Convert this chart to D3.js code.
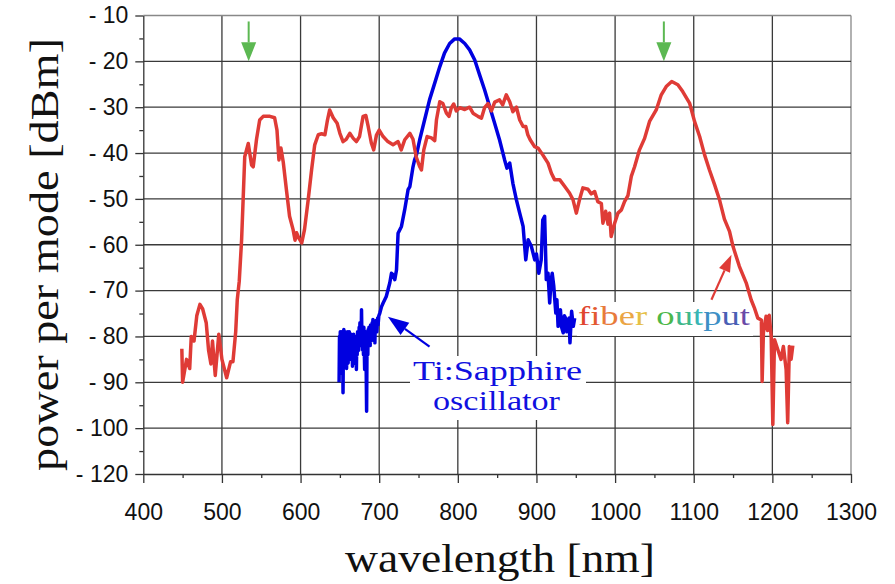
<!DOCTYPE html>
<html>
<head>
<meta charset="utf-8">
<title>power per mode</title>
<script src="https://cdn.jsdelivr.net/npm/d3@7"></script>
<style>
  body { margin: 0; background: #fff; }
  .tick text { font-family: "Liberation Sans", Arial, sans-serif; font-size: 23px; fill: #111; }
  .tick line, .domain { stroke: #333; stroke-width: 1.3px; }
  .title { font-family: "Liberation Serif", "DejaVu Serif", serif; fill: #111; }
</style>
</head>
<body>
<svg id="chart" width="895" height="584"></svg>
<script>
// x-axis ticks (nm) and y-axis ticks (dBm); note the bottom label reads -120
var xTicks = [400, 500, 600, 700, 800, 900, 1000, 1100, 1200, 1300];
var xMinor = [450, 550, 650, 750, 850, 950, 1050, 1150, 1250];
var yTicks = [-10, -20, -30, -40, -50, -60, -70, -80, -90, -100, -110];
var yTickLabels = ["- 10", "- 20", "- 30", "- 40", "- 50", "- 60", "- 70", "- 80", "- 90", "- 100", "- 120"];
var yMinor = [-15, -25, -35, -45, -55, -65, -75, -85, -95, -105];

// fiber output spectrum
var fiberNm = [449, 450, 455, 459, 461, 464.5, 468, 472, 475.5, 480, 483, 486, 488, 491.5, 496, 500, 506, 511, 514, 517.5,
  519.5, 522, 525, 527, 529, 533.5, 537.7, 539.8, 544, 548, 552.5, 561, 567, 570, 572.5, 575, 578, 582, 586, 590.5,
  593, 595, 598, 601.5, 605, 609.7, 614, 618, 622.5, 626.7, 631, 634, 637, 641.5, 646.5, 650, 654, 658, 662.6, 667,
  671, 675, 679.5, 683, 686, 690, 693, 696.5, 700, 705, 711, 717.6, 724, 728, 732.5, 739, 743, 747, 751.6, 753.7,
  756.7, 761, 766.4, 770.6, 772.8, 777, 781, 785.5, 788.8, 791.8, 794.7, 798, 802.4, 808.8, 815, 819.3, 825.6, 830, 834, 838.4,
  842.7, 846.9, 853, 857, 861.6, 866, 870, 874.5, 878.7, 883, 886.4, 889, 892, 897.6, 902, 908, 914.7, 919, 923, 929.5,
  936, 942, 946.5, 950.7, 955, 959, 965.5, 969.7, 974, 978, 982.5, 984.5, 988, 991, 993, 995, 999.4, 1003.6, 1008, 1012,
  1016.3, 1020.6, 1024.8, 1031, 1037.5, 1043.8, 1052.3, 1058.7, 1065, 1072, 1079.8, 1086, 1094.7, 1101, 1107.5, 1113.8, 1120, 1126.5, 1132.8, 1139,
  1145.5, 1150, 1158, 1166.7, 1173, 1177, 1181.5, 1186, 1187, 1188.6, 1192, 1194, 1196, 1198.5, 1200.6, 1202.7, 1207, 1211, 1214, 1217.5,
  1219.5, 1221.6, 1223.8, 1226];
var fiberDbm = [-82.7, -90, -85, -87, -80, -81, -75.5, -73, -74, -77, -83, -86, -81, -88.5, -79.5, -85, -89, -85.5, -85.5, -79,
  -72, -68, -59, -50, -40.8, -37.9, -42.6, -43, -37, -32.8, -32, -32, -32.3, -35, -41.5, -38.9, -42, -48, -53.8, -56.7,
  -59, -57.4, -58.6, -59.6, -56.7, -50.2, -43.7, -38.2, -36, -35.8, -36, -33, -30.6, -32.3, -33.5, -35.7, -37.5, -37, -35.7, -36.8,
  -37.5, -36.4, -32, -31.8, -34.2, -37.8, -39.3, -36.1, -35, -36.4, -37.5, -38.2, -37.5, -39.3, -37.1, -35.7, -37, -40.8, -43, -43.7,
  -39.3, -36.4, -36.7, -37.3, -32.8, -28.8, -29.2, -31.3, -32, -30.1, -29.3, -30.8, -30.1, -30.5, -30, -31.3, -32, -32.4, -30.1, -29.2,
  -30.8, -28.9, -28.4, -29.5, -27.3, -28.8, -31, -30, -32.8, -34.2, -34.2, -36, -37.1, -38.6, -38.9, -40.4, -42.2, -44.4, -45.8, -45.8,
  -47.3, -48.7, -50.2, -53.1, -50, -47.6, -47.9, -48.9, -48.4, -50.6, -51, -55.3, -52.7, -55.5, -53.1, -58.2, -55.3, -53.1, -52.4, -50.6,
  -49.3, -45.1, -43, -39.3, -36.8, -33.1, -30.6, -27.3, -25.5, -24.4, -25.1, -26.6, -29.1, -33.1, -36.4, -40.4, -43.7, -46.9, -50.2, -54.4,
  -57.1, -60.4, -64.7, -68.3, -72, -73.7, -76, -76.4, -89.8, -79.2, -75.6, -78.7, -75.4, -80, -99.2, -80.7, -82.9, -85, -82.2, -87.2,
  -98.8, -82.2, -85, -82];

// Ti:Sapphire oscillator spectrum (noisy floor read point by point)
var oscNm = [649, 649.5, 650, 650.5, 651, 651.5, 652, 652.5, 653, 653.5, 654, 654.5, 655, 655.5, 656, 656.5, 657, 657.5, 658, 658.5,
  659, 659.5, 660, 660.5, 661, 661.5, 662, 662.5, 663, 663.5, 664, 664.5, 665, 665.5, 666, 666.5, 667, 667.5, 668, 668.5,
  669, 669.5, 670, 670.5, 671, 671.5, 672, 672.5, 673, 673.5, 674, 674.5, 675, 675.5, 676, 676.5, 677, 677.5, 678, 678.5,
  679, 679.5, 680, 680.5, 681, 681.5, 682, 682.5, 683, 683.5, 684, 684.5, 685, 685.5, 686, 686.5, 687, 687.5, 688, 688.5,
  689, 689.5, 690, 690.5, 691, 691.5, 692, 692.5, 693, 693.5, 694, 694.5, 695, 695.5, 696, 697, 698, 698.6, 699.5, 700.8,
  703, 705, 709, 713.5, 715.6, 717.5, 719.8, 722, 724, 728.3, 732.5, 736.7, 739, 743,
  745, 747.4, 751.5, 757.7, 764, 770.5, 777, 783, 789.6, 796, 802, 808.8, 815, 821.5, 827.8, 834, 840.5, 846.8, 853, 859.5,
  862.5, 866, 870, 874.5, 878.7, 883, 886.4, 889.4, 893.6, 897.8, 900, 903, 906, 908, 910.4, 912.5, 914.7, 916.8, 918.5, 920,
  922, 924.6, 926, 927.5, 929, 930.5, 932, 934, 935.5, 937, 938.5, 940.5, 941.5, 942.6, 944.7, 946.8, 948.6];
var oscDbm = [-90, -80, -86, -79, -88, -81, -87, -79, -84, -80, -92.3, -81, -78.5, -86, -80, -85, -79, -83, -80, -87,
  -81, -86, -79, -85.8, -80, -84, -79, -82, -84.5, -80, -85, -79.5, -83, -80, -86.5, -80, -84, -79.5, -83, -80,
  -85, -81, -86, -80, -87.2, -81, -84, -79, -82, -79.2, -83, -78, -81, -77, -80, -78, -82, -74.2, -80, -78,
  -83, -79, -84, -78, -83, -87.2, -80, -84, -79, -88, -96.3, -82, -79, -84, -78.5, -82, -78, -81, -79, -82,
  -77.5, -81, -78, -80.5, -77, -80, -76.3, -79, -77, -81, -78, -81.4, -77, -79, -76.5, -79, -76, -77.5, -75.5, -74.9,
  -73.5, -72.7, -71.3, -68.3, -66.2, -66.5, -67.6, -65.5, -57.5, -56, -52.3, -48, -47.3, -43,
  -41.5, -40.4, -37.1, -32.8, -28.4, -24.8, -21.2, -18.2, -16.1, -15.1, -15.1, -16.1, -17.5, -19.7, -23, -26.2, -29.9, -33.5, -37.1, -41.5,
  -43.3, -42.2, -46.6, -50.2, -53.1, -56, -63.3, -58.9, -60.4, -63.3, -62, -66.2, -63.3, -54.6, -53.8, -67.6, -66.2, -72.7, -68, -66.2,
  -69, -74.9, -72, -77.8, -75, -74.2, -78, -79.2, -75.5, -76, -79, -78.5, -76, -81.4, -74.5, -77.8, -76];

// letters of the "fiber output" label and their colours
var fiberLetters = ["f", "i", "b", "e", "r", " ", "o", "u", "t", "p", "u", "t"];
var fiberColors = ["#e0452f", "#e35a30", "#e87b3a", "#eba545", "#e6bf45", "#fff", "#4cb848", "#3fb88a", "#3ab5b5", "#3d8fc5", "#4a5fb5", "#6a4aa8"];

var svg = d3.select("#chart");

var x = d3.scaleLinear().domain([400, 1300]).range([143.3, 851]);
var y = d3.scaleLinear().domain([-110, -10]).range([474, 15.5]);

// grid
var grid = svg.append("g");
grid.selectAll(".vg").data(xTicks.slice(1)).enter().append("line")
    .attr("x1", function(d) { return x(d); }).attr("x2", function(d) { return x(d); })
    .attr("y1", y(-10)).attr("y2", y(-110))
    .attr("stroke", function(d) { return d == 1300 ? "#888" : "#3a3a3a"; })
    .attr("stroke-width", 1.3);
grid.selectAll(".hg").data(yTicks.slice(0, -1)).enter().append("line")
    .attr("x1", x(400)).attr("x2", x(1300))
    .attr("y1", function(d) { return y(d); }).attr("y2", function(d) { return y(d); })
    .attr("stroke", function(d) { return d == -10 ? "#888" : "#3a3a3a"; })
    .attr("stroke-width", 1.3);

// white boxes behind the labels
svg.append("rect").attr("x", 410).attr("y", 356).attr("width", 176).attr("height", 64).attr("fill", "#fff");
svg.append("rect").attr("x", 577).attr("y", 302).attr("width", 176).attr("height", 34).attr("fill", "#fff");

// axes
var xAxis = d3.axisBottom(x).tickValues(xTicks).tickSize(9).tickSizeOuter(0).tickPadding(21)
    .tickFormat(d3.format("d"));
svg.append("g").attr("transform", "translate(0," + y(-110) + ")").call(xAxis);
svg.append("g").attr("transform", "translate(0," + y(-110) + ")")
    .call(d3.axisBottom(x).tickValues(xMinor).tickSize(4).tickSizeOuter(0).tickFormat(""))
    .select(".domain").remove();

var yAxis = d3.axisLeft(y).tickValues(yTicks).tickSize(8).tickSizeOuter(0).tickPadding(7)
    .tickFormat(function(d, i) { return yTickLabels[i]; });
svg.append("g").attr("transform", "translate(" + x(400) + ",0)").call(yAxis);
svg.append("g").attr("transform", "translate(" + x(400) + ",0)")
    .call(d3.axisLeft(y).tickValues(yMinor).tickSize(4).tickSizeOuter(0).tickFormat(""))
    .select(".domain").remove();

// traces
var line = d3.line().x(function(d) { return x(d[0]); }).y(function(d) { return y(d[1]); });
svg.append("path").datum(d3.zip(oscNm, oscDbm)).attr("d", line)
    .attr("fill", "none").attr("stroke", "#0000e0").attr("stroke-width", 3.5).attr("stroke-linejoin", "round");
svg.append("path").datum(d3.zip(fiberNm, fiberDbm)).attr("d", line)
    .attr("fill", "none").attr("stroke", "#df3b36").attr("stroke-width", 3.5).attr("stroke-linejoin", "round");

// arrow helper: shaft from (x1,y1) to tip (x2,y2)
function arrow(x1, y1, x2, y2, color, headLen, headW, sw) {
  var dx = x2 - x1, dy = y2 - y1, L = Math.sqrt(dx * dx + dy * dy);
  var ux = dx / L, uy = dy / L;
  var bx = x2 - ux * headLen, by = y2 - uy * headLen;
  svg.append("line").attr("x1", x1).attr("y1", y1).attr("x2", bx).attr("y2", by)
      .attr("stroke", color).attr("stroke-width", sw);
  svg.append("path")
      .attr("d", "M" + x2 + "," + y2 + "L" + (bx - uy * headW / 2) + "," + (by + ux * headW / 2) +
                 "L" + (bx + uy * headW / 2) + "," + (by - ux * headW / 2) + "Z")
      .attr("fill", color);
}

arrow(x(534), y(-11.3), x(534), y(-20), "#5cb852", 19, 15, 2);
arrow(x(1062), y(-11.3), x(1062), y(-20), "#5cb852", 19, 15, 2);
arrow(x(764), y(-82.2), x(711), y(-75.7), "#0000e0", 21, 15, 2.2);
arrow(x(1122.5), y(-72), x(1148), y(-62.2), "#df3b36", 17, 12, 2.2);

// annotations
svg.append("text").attr("class", "title").attr("x", 413).attr("y", 380)
    .attr("font-size", 28).style("fill", "#1010e0")
    .attr("textLength", 169).attr("lengthAdjust", "spacingAndGlyphs").text("Ti:Sapphire");
svg.append("text").attr("class", "title").attr("x", 433).attr("y", 410)
    .attr("font-size", 28).style("fill", "#1010e0")
    .attr("textLength", 127).attr("lengthAdjust", "spacingAndGlyphs").text("oscillator");

var ft = svg.append("text").attr("class", "title").attr("x", 578).attr("y", 325)
    .attr("font-size", 28).attr("textLength", 172).attr("lengthAdjust", "spacingAndGlyphs");
ft.selectAll("tspan").data(fiberLetters).enter().append("tspan")
    .style("fill", function(d, i) { return fiberColors[i]; })
    .text(function(d) { return d; });

// axis titles
svg.append("text").attr("class", "title").attr("x", 345).attr("y", 572)
    .attr("font-size", 40).attr("textLength", 310).attr("lengthAdjust", "spacingAndGlyphs")
    .text("wavelength [nm]");
svg.append("text").attr("class", "title").attr("transform", "rotate(-90)")
    .attr("x", -471).attr("y", 58)
    .attr("font-size", 40).attr("textLength", 433).attr("lengthAdjust", "spacingAndGlyphs")
    .text("power per mode [dBm]");
</script>
</body>
</html>
